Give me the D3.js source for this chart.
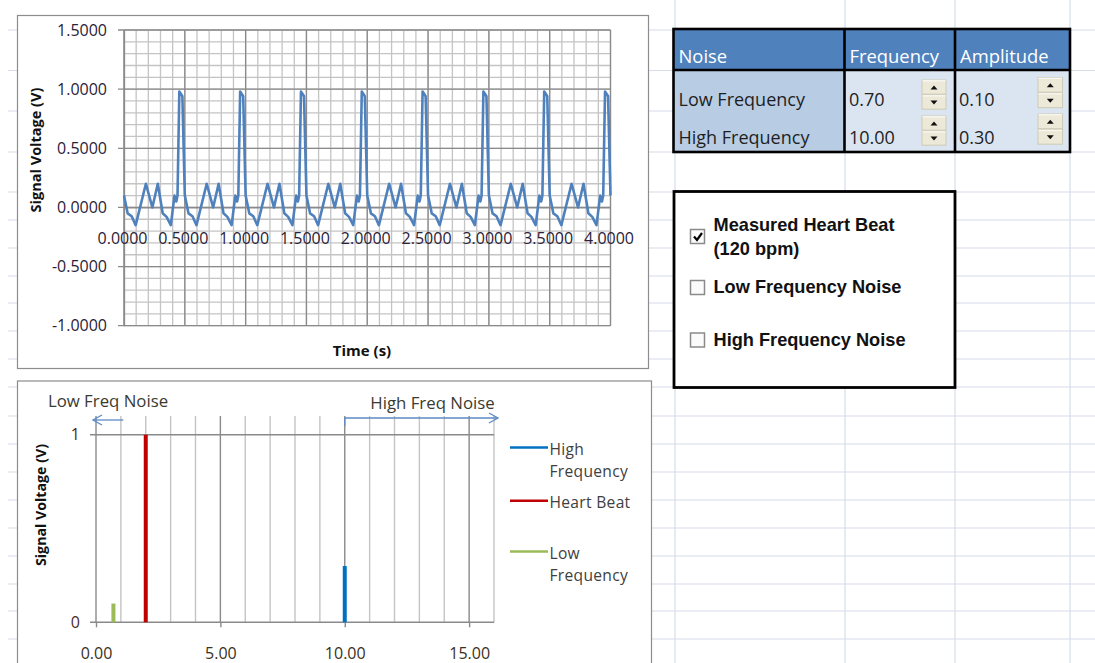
<!DOCTYPE html>
<html>
<head>
<meta charset="utf-8">
<script src="https://cdn.jsdelivr.net/npm/d3@7"></script>
<style>
  html, body { margin: 0; padding: 0; background: #ffffff; }
  svg { display: block; }
  text { font-family: "Open Sans", "Liberation Sans", sans-serif; }
  text.cbx { font-family: "Liberation Sans", Arial, sans-serif; }
</style>
</head>
<body>
<svg id="chart" width="1095" height="663"></svg>
<script>
// ---------------- DATA ----------------
// Time-domain signal (s, V)
const timeS = [
  0.000,0.030,0.063,0.096,0.180,0.233,0.278,0.318,0.350,0.385,0.415,0.430,0.440,0.455,0.480,
  0.500,0.530,0.563,0.596,0.680,0.733,0.778,0.818,0.850,0.885,0.915,0.930,0.940,0.955,0.980,
  1.000,1.030,1.063,1.096,1.180,1.233,1.278,1.318,1.350,1.385,1.415,1.430,1.440,1.455,1.480,
  1.500,1.530,1.563,1.596,1.680,1.733,1.778,1.818,1.850,1.885,1.915,1.930,1.940,1.955,1.980,
  2.000,2.030,2.063,2.096,2.180,2.233,2.278,2.318,2.350,2.385,2.415,2.430,2.440,2.455,2.480,
  2.500,2.530,2.563,2.596,2.680,2.733,2.778,2.818,2.850,2.885,2.915,2.930,2.940,2.955,2.980,
  3.000,3.030,3.063,3.096,3.180,3.233,3.278,3.318,3.350,3.385,3.415,3.430,3.440,3.455,3.480,
  3.500,3.530,3.563,3.596,3.680,3.733,3.778,3.818,3.850,3.885,3.915,3.930,3.940,3.955,3.980,
  4.000
];
const signalV = [
  0.10,-0.05,-0.075,-0.15,0.20,0.00,0.20,-0.05,-0.08,-0.15,0.10,0.05,0.10,0.98,0.94,
  0.10,-0.05,-0.075,-0.15,0.20,0.00,0.20,-0.05,-0.08,-0.15,0.10,0.05,0.10,0.98,0.94,
  0.10,-0.05,-0.075,-0.15,0.20,0.00,0.20,-0.05,-0.08,-0.15,0.10,0.05,0.10,0.98,0.94,
  0.10,-0.05,-0.075,-0.15,0.20,0.00,0.20,-0.05,-0.08,-0.15,0.10,0.05,0.10,0.98,0.94,
  0.10,-0.05,-0.075,-0.15,0.20,0.00,0.20,-0.05,-0.08,-0.15,0.10,0.05,0.10,0.98,0.94,
  0.10,-0.05,-0.075,-0.15,0.20,0.00,0.20,-0.05,-0.08,-0.15,0.10,0.05,0.10,0.98,0.94,
  0.10,-0.05,-0.075,-0.15,0.20,0.00,0.20,-0.05,-0.08,-0.15,0.10,0.05,0.10,0.98,0.94,
  0.10,-0.05,-0.075,-0.15,0.20,0.00,0.20,-0.05,-0.08,-0.15,0.10,0.05,0.10,0.98,0.94,
  0.10
];
const topXTicks = [0, 0.5, 1.0, 1.5, 2.0, 2.5, 3.0, 3.5, 4.0];
const topYTicks = [-1.0, -0.5, 0.0, 0.5, 1.0, 1.5];

// Frequency-domain spectrum (lower chart)
const spectrumNames = ["High Frequency", "Heart Beat", "Low Frequency"];
const spectrumFreq  = [10.0, 2.0, 0.70];
const spectrumAmp   = [0.30, 1.0, 0.10];
const spectrumColors = ["#0070c0", "#c00000", "#9bbb59"];
const bottomXTicks = [0, 5, 10, 15];
const bottomYTicks = [0, 1];

// Noise table
const tableHeaders = ["Noise", "Frequency", "Amplitude"];
const noiseNames = ["Low Frequency", "High Frequency"];
const noiseFreq  = ["0.70", "10.00"];
const noiseAmp   = ["0.10", "0.30"];

// Check boxes
const checkLabels = [["Measured Heart Beat", "(120 bpm)"], ["Low Frequency Noise"], ["High Frequency Noise"]];
const checkStates = [true, false, false];

// -------------- DRAWING ----------------
const svg = d3.select("#chart");
svg.append("rect").attr("width", 1095).attr("height", 663).attr("fill", "#ffffff");
const fmt4 = v => d3.format(".4f")(v).replace("\u2212", "-");

// spreadsheet gridlines
const sheetRows = [30, 70.5, 111, 152, 192, 220, 248, 276, 303, 331, 359, 387, 416, 444, 472, 500, 528, 556, 584, 611, 639];
const sheetCols = [675, 845, 955, 1070];
const sheet = svg.append("g");
sheet.selectAll("line.r").data(sheetRows).join("line")
  .attr("x1", 8).attr("x2", 1095).attr("y1", d => d).attr("y2", d => d)
  .attr("stroke", "#d6dce8").attr("stroke-width", 1.2);
sheet.selectAll("line.c").data(sheetCols).join("line")
  .attr("x1", d => d).attr("x2", d => d).attr("y1", 0).attr("y2", 663)
  .attr("stroke", "#d6dce8").attr("stroke-width", 1.2);

// ====== TOP CHART ======
svg.append("rect").attr("x", 17.5).attr("y", 15.5).attr("width", 631).attr("height", 353)
  .attr("fill", "#fff").attr("stroke", "#8c8c8c").attr("stroke-width", 1.2);

const xTop = d3.scaleLinear().domain([0, 4]).range([124, 610.5]);
const yTop = d3.scaleLinear().domain([-1, 1.5]).range([325.7, 30]);

const gTop = svg.append("g");
const minorX = d3.range(0, 4.0001, 0.1);
const minorY = d3.range(-1, 1.5001, 0.1);
gTop.selectAll("line.mx").data(minorX).join("line")
  .attr("x1", d => xTop(d)).attr("x2", d => xTop(d)).attr("y1", yTop(1.5)).attr("y2", yTop(-1))
  .attr("stroke", "#c4c4c4").attr("stroke-width", 1.3);
gTop.selectAll("line.my").data(minorY).join("line")
  .attr("y1", d => yTop(d)).attr("y2", d => yTop(d)).attr("x1", xTop(0)).attr("x2", xTop(4))
  .attr("stroke", "#c4c4c4").attr("stroke-width", 1.3);
gTop.selectAll("line.Mx").data(topXTicks).join("line")
  .attr("x1", d => xTop(d)).attr("x2", d => xTop(d)).attr("y1", yTop(1.5)).attr("y2", yTop(-1))
  .attr("stroke", "#8a8a8a").attr("stroke-width", 1.3);
gTop.selectAll("line.My").data(topYTicks).join("line")
  .attr("y1", d => yTop(d)).attr("y2", d => yTop(d)).attr("x1", xTop(0) - 6).attr("x2", xTop(4))
  .attr("stroke", "#8a8a8a").attr("stroke-width", 1.3);

// axes (labels via d3 axis)
const yAxisTop = gTop.append("g").attr("transform", `translate(${xTop(0)},0)`)
  .call(d3.axisLeft(yTop).tickValues(topYTicks).tickFormat(fmt4).tickSize(0).tickPadding(17));
yAxisTop.select(".domain").attr("stroke", "#8a8a8a").attr("stroke-width", 1.3);
yAxisTop.selectAll("text").attr("font-size", 16).attr("fill", "#2a2238");

const xAxisTop = gTop.append("g").attr("transform", `translate(0,${yTop(0)})`)
  .call(d3.axisBottom(xTop).tickValues(topXTicks).tickFormat(fmt4).tickSize(0));
xAxisTop.select(".domain").attr("stroke", "#8a8a8a").attr("stroke-width", 1.3);
xAxisTop.selectAll("text").attr("font-size", 16).attr("fill", "#2a2238")
  .attr("y", 31).attr("dy", "0.35em").attr("dx", -2);

// signal line
const pts = timeS.map((t, i) => [t, signalV[i]]);
gTop.append("path").datum(pts)
  .attr("fill", "none").attr("stroke", "#4f81bd").attr("stroke-width", 2.6)
  .attr("stroke-linejoin", "round")
  .attr("d", d3.line().x(d => xTop(d[0])).y(d => yTop(d[1])));

gTop.append("text").attr("transform", "translate(36,150) rotate(-90)")
  .attr("text-anchor", "middle").attr("dy", "0.35em")
  .attr("font-size", 14.5).attr("font-weight", "bold").attr("fill", "#111")
  .text("Signal Voltage (V)");
gTop.append("text").attr("x", 362).attr("y", 351).attr("dy", "0.35em")
  .attr("text-anchor", "middle").attr("font-size", 15).attr("font-weight", "bold").attr("fill", "#111")
  .text("Time (s)");

// ====== BOTTOM CHART ======
svg.append("rect").attr("x", 17.5).attr("y", 381).attr("width", 634).attr("height", 300)
  .attr("fill", "#fff").attr("stroke", "#8c8c8c").attr("stroke-width", 1.2);

const xB = d3.scaleLinear().domain([0, 16]).range([96, 494]);
const yB = d3.scaleLinear().domain([0, 1.1]).range([622.3, 416]);
const gB = svg.append("g");

const bGridX = d3.range(0, 16.001, 1);
gB.selectAll("line.gx").data(bGridX).join("line")
  .attr("x1", d => xB(d)).attr("x2", d => xB(d)).attr("y1", yB(1.1)).attr("y2", yB(0))
  .attr("stroke", d => (d % 5 === 0 ? "#8a8a8a" : "#c4c4c4")).attr("stroke-width", 1.4);
gB.selectAll("line.gy").data(bottomYTicks).join("line")
  .attr("y1", d => yB(d)).attr("y2", d => yB(d)).attr("x1", xB(0) - 6).attr("x2", xB(16))
  .attr("stroke", "#8a8a8a").attr("stroke-width", 1.4);

const yAxisB = gB.append("g").attr("transform", `translate(${xB(0)},0)`)
  .call(d3.axisLeft(yB).tickValues(bottomYTicks).tickFormat(d3.format("d")).tickSize(0).tickPadding(16));
yAxisB.select(".domain").remove();
yAxisB.selectAll("text").attr("font-size", 16).attr("fill", "#4a2a2a");

const xAxisB = gB.append("g").attr("transform", `translate(0,${yB(0)})`)
  .call(d3.axisBottom(xB).tickValues(bottomXTicks).tickFormat(d3.format(".2f")).tickSize(5));
xAxisB.select(".domain").remove();
xAxisB.selectAll(".tick line").attr("stroke", "#8a8a8a").attr("stroke-width", 1.4);
xAxisB.selectAll("text").attr("font-size", 16).attr("fill", "#3a3020")
  .attr("y", 31).attr("dy", "0.35em");

// spectral lines
gB.selectAll("line.spec").data(spectrumNames).join("line")
  .attr("x1", (d, i) => xB(spectrumFreq[i])).attr("x2", (d, i) => xB(spectrumFreq[i]))
  .attr("y1", yB(0)).attr("y2", (d, i) => yB(spectrumAmp[i]))
  .attr("stroke", (d, i) => spectrumColors[i]).attr("stroke-width", 4);

gB.append("text").attr("transform", "translate(41,505) rotate(-90)")
  .attr("text-anchor", "middle").attr("dy", "0.35em")
  .attr("font-size", 14.2).attr("font-weight", "bold").attr("fill", "#111")
  .text("Signal Voltage (V)");

// annotations
const arrowCol = "#5d8ac6";
gB.append("text").attr("x", 108).attr("y", 401).attr("dy", "0.35em").attr("text-anchor", "middle")
  .attr("font-size", 16.8).attr("fill", "#3a3a30").text("Low Freq Noise");
gB.append("line").attr("x1", xB(1.1)).attr("x2", 93).attr("y1", 420).attr("y2", 420)
  .attr("stroke", arrowCol).attr("stroke-width", 1.3);
gB.append("path").attr("d", "M102,415 L93,420 L102,425").attr("fill", "none")
  .attr("stroke", arrowCol).attr("stroke-width", 1.3);

gB.append("text").attr("x", 432.5).attr("y", 403).attr("dy", "0.35em").attr("text-anchor", "middle")
  .attr("font-size", 16.8).attr("fill", "#3a3a30").text("High Freq Noise");
gB.append("line").attr("x1", xB(10)).attr("x2", 498).attr("y1", 418).attr("y2", 418)
  .attr("stroke", arrowCol).attr("stroke-width", 1.3);
gB.append("line").attr("x1", xB(10)).attr("x2", xB(10)).attr("y1", 418).attr("y2", 426)
  .attr("stroke", arrowCol).attr("stroke-width", 1.3);
gB.append("path").attr("d", "M489,413 L498,418 L489,423").attr("fill", "none")
  .attr("stroke", arrowCol).attr("stroke-width", 1.3);

// legend
const legendLines = [[["High", "Frequency"], 447.5], [["Heart Beat"], 500.7], [["Low", "Frequency"], 551.5]];
const legG = gB.append("g");
legendLines.forEach((L, i) => {
  legG.append("line").attr("x1", 510).attr("x2", 548).attr("y1", L[1]).attr("y2", L[1])
    .attr("stroke", spectrumColors[i]).attr("stroke-width", 2.6);
  L[0].forEach((s, j) => {
    legG.append("text").attr("x", 549.5).attr("y", L[1] + 2 + j * 22.5).attr("dy", "0.35em")
      .attr("font-size", 15.6).attr("fill", "#404040").attr("letter-spacing", 0.3).text(s);
  });
});

// ====== NOISE TABLE ======
const tbl = svg.append("g");
const colX = [673.5, 844.5, 955, 1070];
const rowY = [29, 70, 111, 152];
tbl.append("rect").attr("x", colX[0]).attr("y", rowY[0]).attr("width", colX[3] - colX[0]).attr("height", rowY[1] - rowY[0])
  .attr("fill", "#4f81bd");
tbl.append("rect").attr("x", colX[0]).attr("y", rowY[1]).attr("width", colX[1] - colX[0]).attr("height", rowY[3] - rowY[1])
  .attr("fill", "#b8cce4");
tbl.append("rect").attr("x", colX[1]).attr("y", rowY[1]).attr("width", colX[3] - colX[1]).attr("height", rowY[3] - rowY[1])
  .attr("fill", "#dbe5f1");
tbl.selectAll("text.h").data(tableHeaders).join("text")
  .attr("x", (d, i) => colX[i] + 5).attr("y", 57).attr("dy", "0.35em")
  .attr("font-size", 18.4).attr("fill", "#ffffff").text(d => d);
const bodyY = [100, 137.5];
noiseNames.forEach((n, i) => {
  tbl.append("text").attr("x", 678.5).attr("y", bodyY[i]).attr("dy", "0.35em").attr("font-size", 18)
    .attr("fill", "#1f1f1f").text(n);
  tbl.append("text").attr("x", 849).attr("y", bodyY[i]).attr("dy", "0.35em").attr("font-size", 18)
    .attr("fill", "#1f1f1f").text(noiseFreq[i]);
  tbl.append("text").attr("x", 959).attr("y", bodyY[i]).attr("dy", "0.35em").attr("font-size", 18)
    .attr("fill", "#1f1f1f").text(noiseAmp[i]);
});
// borders
tbl.append("rect").attr("x", colX[0]).attr("y", rowY[0]).attr("width", colX[3] - colX[0]).attr("height", rowY[3] - rowY[0])
  .attr("fill", "none").attr("stroke", "#000").attr("stroke-width", 2.6);
tbl.append("line").attr("x1", colX[0]).attr("x2", colX[3]).attr("y1", rowY[1]).attr("y2", rowY[1])
  .attr("stroke", "#000").attr("stroke-width", 2.6);
[colX[1], colX[2]].forEach(x => tbl.append("line").attr("x1", x).attr("x2", x).attr("y1", rowY[0]).attr("y2", rowY[3])
  .attr("stroke", "#000").attr("stroke-width", 2.6));

// spinners
function spinner(x, y, w, h) {
  const half = h / 2;
  [0, 1].forEach(k => {
    const yy = y + k * half;
    tbl.append("rect").attr("x", x).attr("y", yy).attr("width", w).attr("height", half - 0.8)
      .attr("fill", "#ece9d8").attr("stroke", "#cfcab6").attr("stroke-width", 1);
    tbl.append("line").attr("x1", x + 0.5).attr("x2", x + w - 0.5).attr("y1", yy + 0.8).attr("y2", yy + 0.8)
      .attr("stroke", "#fbfbf6").attr("stroke-width", 1.2);
    const cx = x + w / 2, cy = yy + half / 2;
    const tri = k === 0 ? `M${cx - 3.5},${cy + 2} L${cx + 3.5},${cy + 2} L${cx},${cy - 2} Z`
                        : `M${cx - 3.5},${cy - 2} L${cx + 3.5},${cy - 2} L${cx},${cy + 2} Z`;
    tbl.append("path").attr("d", tri).attr("fill", "#111");
  });
}
spinner(922, 80, 24, 30);
spinner(922, 116, 24, 30);
spinner(1038, 77.5, 24.5, 31);
spinner(1038, 114, 24.5, 31);

// ====== CHECKBOX PANEL ======
const cb = svg.append("g");
cb.append("rect").attr("x", 674).attr("y", 191.5).attr("width", 281).attr("height", 196)
  .attr("fill", "#fff").attr("stroke", "#000").attr("stroke-width", 2.8);
const boxY = [229.5, 280.5, 333];
const textY = [[225, 248.3], [286.7], [340]];
checkLabels.forEach((lab, i) => {
  cb.append("rect").attr("x", 690.5).attr("y", boxY[i]).attr("width", 14).attr("height", 14)
    .attr("fill", "#fbfbfb").attr("stroke", "#8a8a8a").attr("stroke-width", 1.5);
  if (checkStates[i]) {
    cb.append("path").attr("d", `M694,${boxY[i] + 7} L697,${boxY[i] + 10.5} L702,${boxY[i] + 3.5}`)
      .attr("fill", "none").attr("stroke", "#000").attr("stroke-width", 2.2);
  }
  lab.forEach((s, j) => {
    cb.append("text").attr("class", "cbx").attr("x", 713.5).attr("y", textY[i][j]).attr("dy", "0.35em")
      .attr("font-weight", "bold").attr("font-size", 18.2)
      .attr("fill", "#111").text(s);
  });
});
</script>
</body>
</html>
